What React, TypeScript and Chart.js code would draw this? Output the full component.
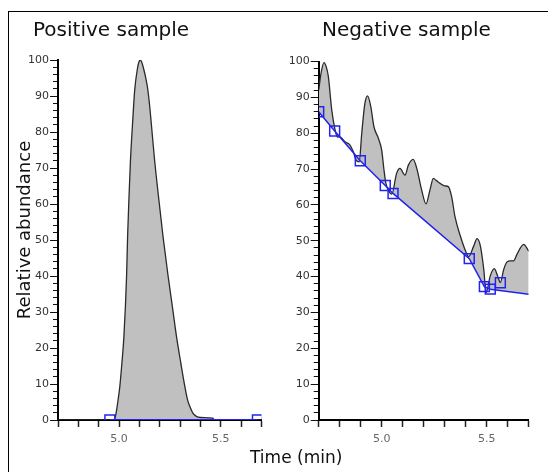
import { useEffect, useRef } from 'react';
import { Chart, registerables } from 'chart.js';

Chart.register(...registerables);

// ---------- data ----------
const posTime = [4.70, 4.85, 4.95, 4.975, 4.983, 4.991, 5.004, 5.015, 5.024, 5.037, 5.042, 5.049, 5.056, 5.066, 5.077, 5.090, 5.098, 5.105, 5.112, 5.122, 5.132, 5.140, 5.150, 5.159, 5.175, 5.195, 5.216, 5.241, 5.262, 5.282, 5.303, 5.323, 5.337, 5.347, 5.362, 5.380, 5.400, 5.460, 5.470, 5.700];
const posAbund = [0, 0, 0, 0, 1.2, 3.9, 9.4, 16.5, 23.3, 40, 51, 62, 72, 82, 91.7, 97.5, 99.5, 100, 99.3, 97.3, 94.8, 92.3, 87.5, 82, 72, 61.5, 51, 40, 31.5, 23.3, 16, 9.4, 5.5, 3.9, 2, 1, 0.7, 0.5, 0, 0];

const posBaseTime = [4.955, 5.68];
const posBaseAbund = [0, 0];

const negTime = [4.700, 4.712, 4.725, 4.736, 4.746, 4.762, 4.778, 4.789, 4.801, 4.825, 4.849, 4.865, 4.878, 4.893, 4.905, 4.920, 4.933, 4.948, 4.963, 4.984, 5.000, 5.011, 5.020, 5.031, 5.048, 5.071, 5.087, 5.111, 5.127, 5.150, 5.167, 5.190, 5.211, 5.230, 5.246, 5.262, 5.278, 5.301, 5.317, 5.333, 5.349, 5.373, 5.397, 5.414, 5.438, 5.454, 5.470, 5.486, 5.497, 5.517, 5.536, 5.552, 5.565, 5.581, 5.597, 5.612, 5.628, 5.644, 5.676, 5.700];
const negAbund = [92, 97, 99.7, 98.5, 95.8, 86.5, 80.9, 78.9, 79.0, 77.6, 76.7, 74.8, 72.5, 72.0, 80.0, 88.3, 90.4, 87.4, 81.8, 78.6, 75.3, 69.7, 66.0, 64.2, 63.0, 68.8, 70.2, 68.3, 71.1, 72.7, 70.2, 64.2, 60.3, 64.2, 67.4, 66.7, 66.0, 65.3, 65.1, 62.3, 56.7, 51.6, 47.5, 45.6, 48.5, 50.6, 48.5, 42.0, 35.5, 40.2, 42.2, 40.2, 38.3, 42.0, 44.1, 44.4, 44.4, 46.2, 49.0, 47.1];

const negBaseTime = [4.700, 4.776, 4.898, 5.017, 5.054, 5.417, 5.489, 5.517, 5.700];
const negBaseAbund = [86.0, 80.6, 72.3, 65.4, 63.2, 45.0, 37.2, 36.5, 35.1];
const negBaseMarker = [true, true, true, true, true, true, true, true, false];

const negExtraTime = [5.565];
const negExtraAbund = [38.3];

const xMin = 4.7;
const xMax = 5.7;
const xStep = 0.1;
const xLabels = [5.0, 5.5];
const yMin = 0;
const yMax = 100;
const yMinorStep = 2;
const yMajorStep = 10;

// ---------- styling ----------
const FONT = "'DejaVu Sans', sans-serif";
const GREY_FILL = '#c0c0c0';
const CURVE = '#2a2a2a';
const BLUE = '#2323f0';

const pts = (xs: number[], ys: number[]) => xs.map((x, i) => ({ x, y: ys[i] }));

function makeOptions(yWidth: number, xHeight: number, padding: any): any {
  return {
    animation: false,
    responsive: false,
    maintainAspectRatio: false,
    events: [],
    layout: { padding },
    plugins: {
      legend: { display: false },
      tooltip: { enabled: false },
      title: { display: false },
    },
    scales: {
      x: {
        type: 'linear',
        min: xMin,
        max: xMax,
        ticks: {
          stepSize: xStep,
          autoSkip: false,
          maxRotation: 0,
          padding: 6,
          color: '#666',
          font: { family: FONT, size: 11 },
          callback: (v: number) => {
            const hit = xLabels.find((l) => Math.abs(l - v) < 1e-6);
            return hit !== undefined ? hit.toFixed(1) : '';
          },
        },
        grid: {
          drawOnChartArea: false,
          drawTicks: true,
          tickLength: 7,
          tickColor: '#222',
          tickWidth: 1.5,
        },
        border: { color: '#000', width: 2 },
        afterFit: (s: any) => {
          s.height = xHeight;
        },
      },
      y: {
        min: yMin,
        max: yMax,
        ticks: {
          stepSize: yMinorStep,
          maxTicksLimit: 200,
          autoSkip: false,
          padding: 1,
          color: '#333',
          font: { family: FONT, size: 11 },
          callback: (v: number) => (Math.abs(v % yMajorStep) < 1e-6 ? String(v) : ''),
        },
        grid: {
          drawOnChartArea: false,
          drawTicks: true,
          tickLength: 8,
          tickColor: '#111',
          tickWidth: 1,
          tickBorderDash: (ctx: any) =>
            ctx.tick && Math.abs(ctx.tick.value % yMajorStep) < 1e-6 ? [] : [0, 3, 5, 100],
        },
        border: { color: '#000', width: 2 },
        afterFit: (s: any) => {
          s.width = yWidth;
        },
      },
    },
  };
}

function ChartCanvas({ config, style, width, height }: any) {
  const ref = useRef<HTMLCanvasElement | null>(null);
  useEffect(() => {
    if (!ref.current) return;
    const chart = new Chart(ref.current, config());
    return () => chart.destroy();
  }, []);
  return <canvas ref={ref} width={width} height={height} style={{ position: 'absolute', width, height, ...style }} />;
}

const posConfig = () => ({
  type: 'line',
  data: {
    datasets: [
      {
        data: pts(posTime, posAbund),
        borderColor: CURVE,
        borderWidth: 1.3,
        backgroundColor: GREY_FILL,
        fill: 'origin',
        pointRadius: 0,
        cubicInterpolationMode: 'monotone',
        clip: 0,
        order: 1,
      },
      {
        data: pts(posBaseTime, posBaseAbund),
        borderColor: BLUE,
        borderWidth: 2,
        fill: false,
        pointStyle: 'rect',
        pointRadius: 7,
        pointBorderWidth: 1.5,
        pointBorderColor: BLUE,
        pointBackgroundColor: 'rgba(0,0,0,0)',
        clip: 0,
        order: 0,
      },
    ],
  },
  options: makeOptions(58, 52, { left: 0, top: 60, right: 8, bottom: 0 }),
});

const negConfig = () => ({
  type: 'line',
  data: {
    datasets: [
      {
        data: pts(negTime, negAbund),
        borderColor: CURVE,
        borderWidth: 1.3,
        backgroundColor: GREY_FILL,
        fill: { target: 1, above: GREY_FILL, below: GREY_FILL },
        pointRadius: 0,
        cubicInterpolationMode: 'monotone',
        clip: 0,
        order: 2,
      },
      {
        data: pts(negBaseTime, negBaseAbund),
        borderColor: BLUE,
        borderWidth: 1.5,
        fill: false,
        pointStyle: 'rect',
        pointRadius: negBaseMarker.map((m) => (m ? 7 : 0)),
        pointBorderWidth: 1.5,
        pointBorderColor: BLUE,
        pointBackgroundColor: 'rgba(0,0,0,0)',
        clip: 0,
        order: 0,
      },
      {
        data: pts(negExtraTime, negExtraAbund),
        showLine: false,
        fill: false,
        pointStyle: 'rect',
        pointRadius: 7,
        pointBorderWidth: 1.5,
        pointBorderColor: BLUE,
        pointBackgroundColor: 'rgba(0,0,0,0)',
        clip: 0,
        order: 0,
      },
    ],
  },
  options: makeOptions(48.7, 52, { left: 0, top: 61.5, right: 25.3, bottom: 0 }),
});

export default function App() {
  const titleStyle: any = {
    position: 'absolute',
    fontFamily: FONT,
    fontSize: 20,
    lineHeight: '20px',
    color: '#111',
    whiteSpace: 'nowrap',
  };
  return (
    <div
      style={{
        position: 'fixed',
        left: 0,
        top: 0,
        width: 554,
        height: 472,
        background: '#fff',
        overflow: 'hidden',
      }}
    >
      <div
        style={{
          position: 'absolute',
          left: 8,
          top: 11,
          width: 539,
          height: 470,
          borderLeft: '1px solid #000',
          borderTop: '1px solid #000',
        }}
      />
      <ChartCanvas config={posConfig} width={270} height={472} style={{ left: 0, top: 0 }} />
      <ChartCanvas config={negConfig} width={284} height={472} style={{ left: 270, top: 0 }} />
      <div style={{ ...titleStyle, left: 33, top: 19 }}>Positive sample</div>
      <div style={{ ...titleStyle, left: 322, top: 19 }}>Negative sample</div>
      <div
        style={{
          position: 'absolute',
          left: 250,
          top: 449,
          fontFamily: FONT,
          fontSize: 17,
          lineHeight: '17px',
          color: '#111',
          whiteSpace: 'nowrap',
        }}
      >
        Time (min)
      </div>
      <div
        style={{
          position: 'absolute',
          left: 23.8 - 100,
          top: 230 - 10,
          width: 200,
          height: 20,
          textAlign: 'center',
          fontFamily: FONT,
          fontSize: 18,
          lineHeight: '20px',
          color: '#111',
          whiteSpace: 'nowrap',
          transform: 'rotate(-90deg)',
          transformOrigin: '50% 50%',
        }}
      >
        Relative abundance
      </div>
    </div>
  );
}
